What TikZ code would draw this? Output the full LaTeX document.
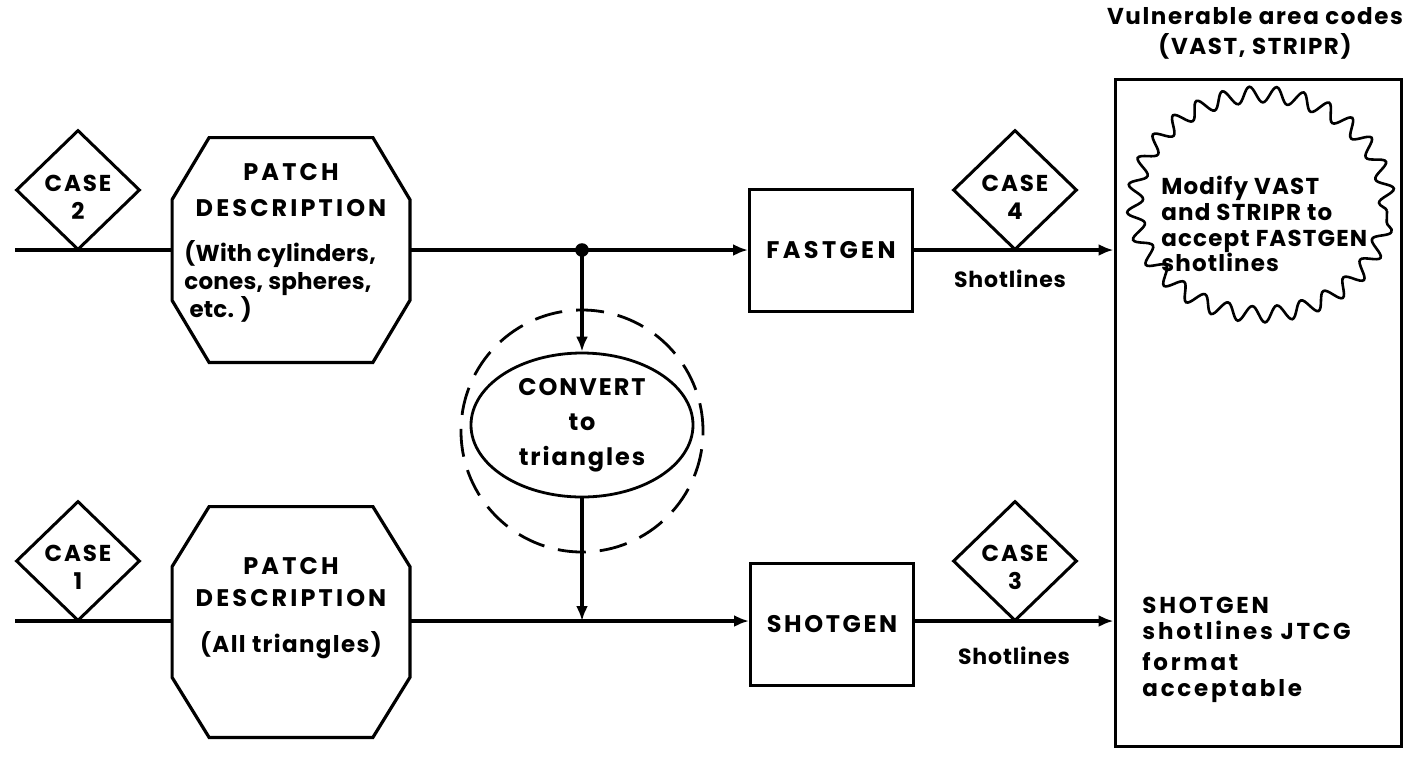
\documentclass[tikz,border=0pt]{standalone}
\usepackage{fontspec}
\setmainfont{Poppins}
\usetikzlibrary{shapes.geometric,decorations.pathmorphing,arrows.meta,calc}
\newcommand\octpath[2]{%
  \draw[line] ($(#1.north west)+(37,0)$) -- ($(#1.north east)+(-37,0)$) -- ($(#1.north east)+(0,#2)$) -- ($(#1.south east)+(0,-#2)$) -- ($(#1.south east)+(-37,0)$) -- ($(#1.south west)+(37,0)$) -- ($(#1.south west)+(0,-#2)$) -- ($(#1.north west)+(0,#2)$) -- cycle;}
\newcommand\fsz[3]{\fontsize{#1}{#2}\bfseries\selectfont\addfontfeature{LetterSpace=#3}}
\begin{document}
\begin{tikzpicture}[x=0.5pt,y=-0.5pt,
  line/.style={line width=1.6pt},
  arr/.style={line width=1.6pt, -{Latex[length=7.5pt,width=6pt]}},
  casebox/.style={diamond, draw, line width=1.5pt, minimum width=62pt, minimum height=60pt, inner sep=0pt},
  casetxt/.style={font=\fsz{11.5}{14}{8}, align=center, inner sep=0pt},
  procbox/.style={rectangle, draw, line width=1.5pt, minimum width=81.5pt, minimum height=61pt},
  txt/.style={inner sep=0pt},
  octbox/.style={rectangle, draw=none, minimum width=118.5pt, inner sep=0pt}
]
\useasboundingbox (0,0) rectangle (1420,757);

% title
\node[txt, align=center, font=\fsz{11.5}{15}{7}] (title) at (1255,33) {Vulnerable area codes\\(VAST, STRIPR)};

% big box
\node[rectangle, draw, line width=1.5pt, minimum width=143pt, minimum height=333.5pt, inner sep=0pt] (vb) at (1258,412.5) {};

% starburst
\node[ellipse, draw, line width=1.3pt, minimum width=126pt, minimum height=110pt, decorate, decoration={snake, segment length=13pt, amplitude=4pt}] (sb) at (1261,211) {};
\node[txt, align=left, font=\fsz{11.5}{12.8}{5}, anchor=north west] (sbt) at (1161,176) {Modify VAST\\and STRIPR to\\accept FASTGEN\\shotlines};

\node[txt, align=left, font=\fsz{11.5}{12.8}{12}, anchor=north west] (vbt) at (1142,597) {SHOTGEN\\shotlines JTCG\\[3pt]format\\acceptable};

% octagons
\node[octbox, minimum height=112pt] (pd2) at (291,250) {};
\octpath{pd2}{62}
\node[txt, align=center, font=\fsz{12}{14}{13}] (pd2a) at (291,190) {PATCH\\[4pt]DESCRIPTION};
\node[txt, align=left, anchor=north west, font=\fsz{11.5}{14}{1}] (pd2b) at (184,240) {(With cylinders,\\cones, spheres,\\\ etc. )};

\node[octbox, minimum height=115pt] (pd1) at (291,622) {};
\octpath{pd1}{60}
\node[txt, align=center, font=\fsz{12}{14}{13}] (pd1a) at (291,582) {PATCH\\[2pt]DESCRIPTION};
\node[txt, font=\fsz{11.5}{14}{6}] (pd1b) at (291,645) {(All triangles)};

% case diamonds
\node[casebox] (c2) at (78,190) {};
\node[casetxt] (c2t) at (78,197) {CASE\\2};
\node[casebox] (c1) at (78,561) {};
\node[casetxt] (c1t) at (78,567) {CASE\\1};
\node[casebox] (c4) at (1015,190) {};
\node[casetxt] (c4t) at (1015,197) {CASE\\4};
\node[casebox] (c3) at (1015,561) {};
\node[casetxt] (c3t) at (1015,567) {CASE\\3};

% process boxes
\node[procbox, font=\fsz{12}{14}{14}] (fg) at (831,250) {FASTGEN};
\node[procbox, font=\fsz{12}{14}{11}] (sg) at (832,624) {SHOTGEN};

% convert
\node[circle, draw, dashed, dash pattern=on 14pt off 7pt, line width=1.4pt, minimum size=121pt, inner sep=0pt] (dc) at (582,431) {};
\node[ellipse, draw, line width=1.4pt, minimum width=111pt, minimum height=72pt, inner sep=0pt, align=center, font=\fsz{12}{17.5}{8}] (cv) at (582,425) {CONVERT\\to\\triangles};

% connectors
\coordinate (s2) at (15,250);
\coordinate (s1) at (15,621);
\coordinate (j) at (582,250);
\draw[line] (s2) -- (pd2.west);
\draw[line] (s1) -- (s1 -| pd1.west);
\draw[line] (pd2.east) -- (j);
\fill (j) circle (3.4pt);
\draw[arr] (j) -- (fg.west);
\draw[arr] (j) -- (cv.north);
\draw[arr] (cv.south) -- (cv.south |- s1);
\draw[arr] (s1 -| pd1.east) -- (s1 -| sg.west);
\draw[arr] (fg.east) -- (fg.east -| vb.west);
\draw[arr] (s1 -| sg.east) -- (s1 -| vb.west);

% labels
\node[txt, font=\fsz{11}{14}{4}] (sl4) at (1010,279) {Shotlines};
\node[txt, font=\fsz{11}{14}{4}] (sl3) at (1014,656) {Shotlines};
\end{tikzpicture}
\end{document}
